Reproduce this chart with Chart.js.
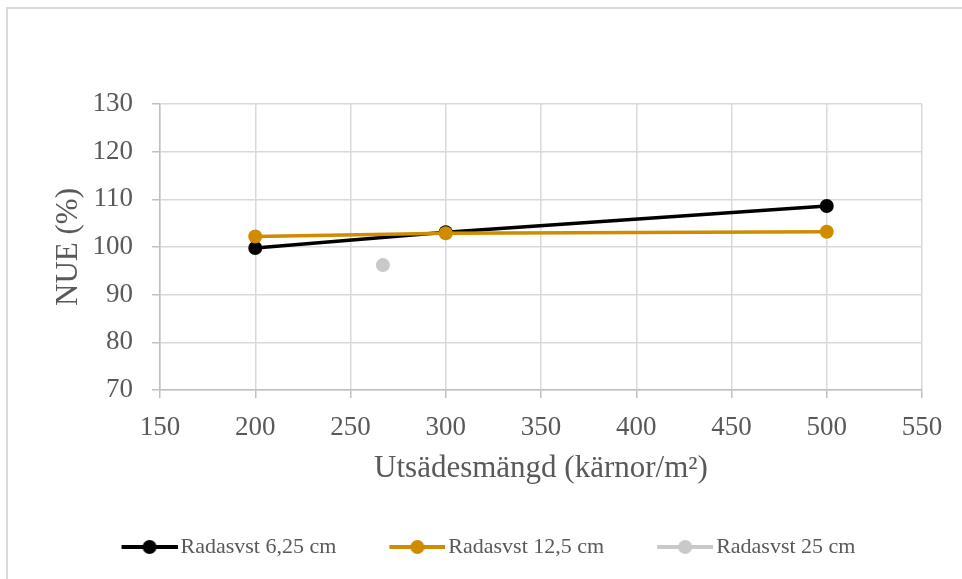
<!DOCTYPE html>
<html>
<head>
<meta charset="utf-8">
<title>NUE vs utsädesmängd</title>
<script src="https://cdn.jsdelivr.net/npm/chart.js@4/dist/chart.umd.min.js"></script>
<style>
  html, body { margin: 0; padding: 0; background: #ffffff; overflow: hidden; }
  #wrap { position: relative; width: 962px; height: 579px; overflow: hidden; }
  #frame { position: absolute; left: 6px; top: 7px; width: 2000px; height: 1000px;
           border: 2px solid #d9d9d9; box-sizing: border-box; }
  #chart { position: absolute; left: 0; top: 0; }
</style>
</head>
<body>
<div id="wrap">
  <div id="frame"></div>
  <canvas id="chart" width="962" height="579"></canvas>
</div>
<script>
// Seed rate (kernels per m²) and nitrogen use efficiency (%) per row spacing
const seriesNames = ['Radasvst 6,25 cm', 'Radasvst 12,5 cm', 'Radasvst 25 cm'];
const seedRate625 = [200, 300, 500];
const nue625 = [99.8, 103.1, 108.6];
const seedRate125 = [200, 300, 500];
const nue125 = [102.2, 102.9, 103.2];
const seedRate25 = [267];
const nue25 = [96.2];
const xTicks = [150, 200, 250, 300, 350, 400, 450, 500, 550];
const yTicks = [70, 80, 90, 100, 110, 120, 130];

const colors = ['#000000', '#d08c00', '#c9c9c9'];
const textColor = '#595959';
const serif = "'Liberation Serif', 'Times New Roman', serif";

function toPoints(xs, ys) {
  return xs.map((x, i) => ({ x: x, y: ys[i] }));
}

// Legend marker: short line with a dot in the middle, padded on the left
const LEG_BOX = 91;
const LEG_LEFT = LEG_BOX - 40;
function legendMarker(color) {
  const c = document.createElement('canvas');
  c.width = LEG_LEFT + 56;
  c.height = 16;
  const g = c.getContext('2d');
  g.strokeStyle = color;
  g.lineWidth = 4;
  g.beginPath();
  g.moveTo(LEG_LEFT, 8);
  g.lineTo(LEG_LEFT + 56, 8);
  g.stroke();
  g.fillStyle = color;
  g.beginPath();
  g.arc(LEG_LEFT + 28, 8, 7, 0, Math.PI * 2);
  g.fill();
  return c;
}
const markers = colors.map(legendMarker);

function lineDataset(label, xs, ys, color, order) {
  return {
    label: label,
    data: toPoints(xs, ys),
    borderColor: color,
    backgroundColor: color,
    borderWidth: 3.5,
    pointRadius: 7,
    pointHoverRadius: 7,
    pointBorderWidth: 0,
    pointBackgroundColor: color,
    showLine: true,
    tension: 0,
    order: order
  };
}

const data = {
  datasets: [
    lineDataset(seriesNames[0], seedRate625, nue625, colors[0], 1),
    lineDataset(seriesNames[1], seedRate125, nue125, colors[1], 0),
    lineDataset(seriesNames[2], seedRate25, nue25, colors[2], 2)
  ]
};

new Chart(document.getElementById('chart'), {
  type: 'scatter',
  data: data,
  options: {
    responsive: false,
    devicePixelRatio: 1,
    animation: false,
    events: [],
    layout: { padding: { left: 0, right: 28, top: 104, bottom: 11 } },
    plugins: {
      tooltip: { enabled: false },
      legend: {
        position: 'bottom',
        labels: {
          usePointStyle: true,
          pointStyleWidth: LEG_BOX,
          padding: 10,
          color: textColor,
          font: { family: serif, size: 22 },
          sort: (a, b) => a.datasetIndex - b.datasetIndex,
          generateLabels: (chart) => chart.data.datasets.map((ds, i) => ({
            text: ds.label,
            datasetIndex: i,
            fillStyle: ds.borderColor,
            strokeStyle: ds.borderColor,
            lineWidth: 0,
            pointStyle: markers[i],
            fontColor: textColor,
            hidden: false
          }))
        }
      }
    },
    scales: {
      x: {
        type: 'linear',
        min: xTicks[0],
        max: xTicks[xTicks.length - 1],
        afterBuildTicks: (scale) => { scale.ticks = xTicks.map(v => ({ value: v })); },
        afterFit: (scale) => { scale.height = 136; scale.paddingRight = 40; },
        grid: { color: '#d9d9d9', lineWidth: 1.5, tickColor: '#bfbfbf', tickLength: 8 },
        border: { color: '#bfbfbf', width: 1.5 },
        ticks: { color: textColor, font: { family: serif, size: 27 }, padding: 14, maxRotation: 0 },
        title: {
          display: true,
          text: 'Utsädesmängd (kärnor/m²)',
          color: textColor,
          font: { family: serif, size: 31 },
          padding: { top: 0, bottom: 39 }
        }
      },
      y: {
        min: yTicks[0],
        max: yTicks[yTicks.length - 1],
        afterBuildTicks: (scale) => { scale.ticks = yTicks.map(v => ({ value: v })); },
        afterFit: (scale) => { scale.width = 160; },
        grid: { color: '#d9d9d9', lineWidth: 1.5, tickColor: '#bfbfbf', tickLength: 8 },
        border: { color: '#bfbfbf', width: 1.5 },
        ticks: { color: textColor, font: { family: serif, size: 27 }, padding: 19 },
        title: {
          display: true,
          text: 'NUE (%)',
          color: textColor,
          font: { family: serif, size: 31 },
          padding: { top: 50, bottom: 0 }
        }
      }
    }
  }
});
</script>
</body>
</html>
